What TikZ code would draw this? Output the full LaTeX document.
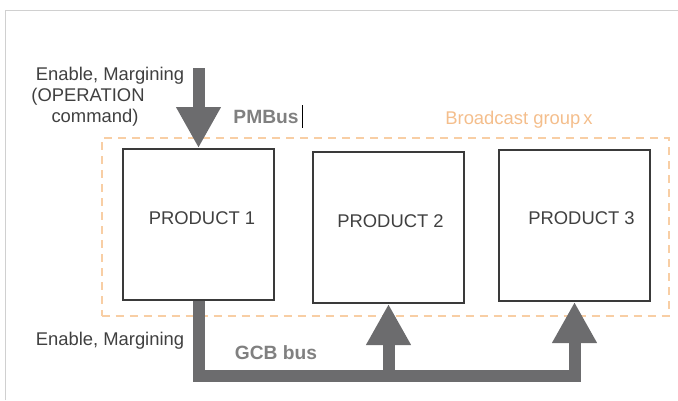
\documentclass[tikz,border=0pt]{standalone}
\usepackage{fontspec}
\setmainfont{Liberation Sans}
\usetikzlibrary{arrows.meta}
\definecolor{busgray}{RGB}{108,108,110}
\definecolor{txtgray}{RGB}{64,64,64}
\definecolor{lblgray}{RGB}{128,128,128}
\definecolor{bcorange}{RGB}{244,190,140}
\definecolor{dashorange}{RGB}{248,206,164}
\definecolor{framegray}{RGB}{208,208,208}
\tikzset{
  pbox/.style={draw=txtgray!90!black, line width=1.5pt, minimum width=151*0.75pt, minimum height=151*0.75pt, inner sep=0pt},
  ptext/.style={text=txtgray, font=\fontsize{13.8}{16}\selectfont, inner sep=0pt},
  sidetext/.style={text=txtgray, font=\fontsize{13.8}{15.75}\selectfont, inner sep=0pt},
  buslabel/.style={text=lblgray, font=\fontsize{14.4}{16}\selectfont\bfseries, inner sep=0pt},
  bus/.style={draw=busgray, line width=9pt, line join=miter},
  bigarrow/.style={bus, -{Triangle[width=31.5pt, length=30.75pt]}},
  group/.style={draw=dashorange, line width=1.5pt, dash pattern=on 6pt off 4.5pt}
}
\begin{document}
\begin{tikzpicture}[x=0.75pt, y=-0.75pt]
\useasboundingbox (0,0) rectangle (678,400);
% frame lines
\draw[framegray, line width=0.75pt] (5,400) -- (5,10) -- (678,10);
% broadcast group
\node[group, minimum width=567*0.75pt, minimum height=178*0.75pt, inner sep=0pt] (grp) at (385,227) {};
\node[text=bcorange, font=\fontsize{13.8}{16}\selectfont, inner sep=0pt] (grplbl) at (519,120) {Broadcast group\,x};
% products
\node[pbox] (p1) at (198.5,224.5) {};
\node[pbox] (p2) at (388.5,227.5) {};
\node[pbox] (p3) at (574.5,225.5) {};
\node[ptext] (t1) at (202,218) {PRODUCT 1};
\node[ptext] (t2) at (390.5,221) {PRODUCT 2};
\node[ptext] (t3) at (581.5,218) {PRODUCT 3};
% PMBus input
\coordinate (in) at (198.5,68);
\draw[bigarrow] (in) -- (p1.north);
\node[sidetext] (en1) at (110,76) {Enable, Margining};
\node[sidetext] (en2) at (88,97) {(OPERATION};
\node[sidetext] (en3) at (95,118) {command)};
\node[buslabel] (pmb) at (266,117) {PMBus};
\coordinate (cur1) at (302,105);
\coordinate (cur2) at (302,128);
\draw[black, line width=0.75pt] (cur1) -- (cur2);
% GCB bus
\coordinate (c1) at (198.5,376);
\coordinate (c2) at (388.5,376);
\coordinate (c3) at (574.5,376);
\draw[bigarrow] (p1.south) -- (c1) -- (c3) -- (p3.south);
\draw[bigarrow] (c2) -- (p2.south);
\node[sidetext] (en4) at (110,341) {Enable, Margining};
\node[buslabel] (gcb) at (276,353) {GCB bus};
\end{tikzpicture}
\end{document}
